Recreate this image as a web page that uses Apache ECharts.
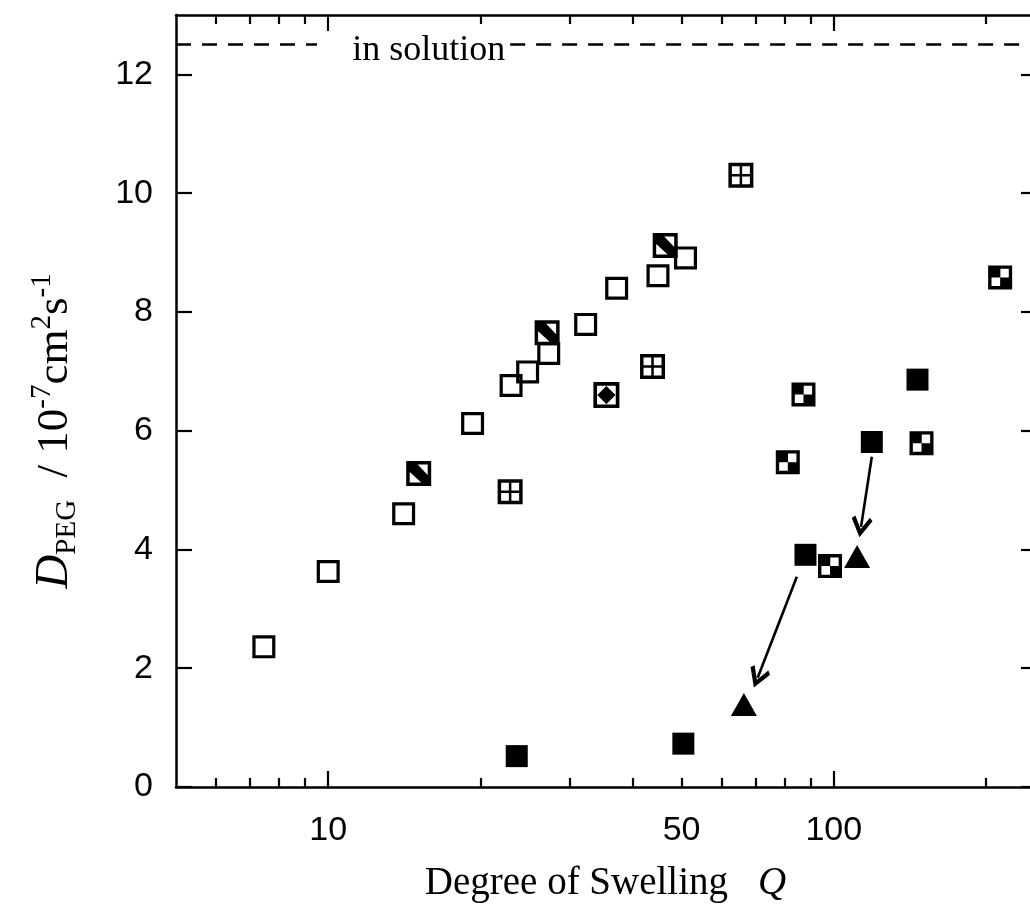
<!DOCTYPE html>
<html><head><meta charset="utf-8">
<script src="https://cdn.jsdelivr.net/npm/echarts@6/dist/echarts.min.js"></script>
<style>html,body{margin:0;padding:0;background:#fff}#c{width:1030px;height:909px}</style>
</head><body><div id="c"></div>
<script>
// ---- data (Q = degree of swelling, D = D_PEG / 1e-7 cm^2 s^-1) ----
const openSquares    = [[7.46,2.36],[10.0,3.63],[14.1,4.60],[19.3,6.12],[23.0,6.76],[24.8,6.99],[27.3,7.30],[32.3,7.79],[37.2,8.40],[44.9,8.61],[50.9,8.91]];
const diagSquares    = [[15.1,5.28],[27.1,7.65],[46.4,9.12]];
const plusSquares    = [[22.9,4.97],[43.8,7.08],[65.5,10.30]];
const diamondSquares = [[35.5,6.60]];
const checkSquares   = [[81.1,5.47],[87.1,6.61],[98.3,3.72],[149.1,5.79],[213.3,8.58]];
const filledSquares  = [[23.6,0.52],[50.4,0.73],[87.9,3.91],[118.9,5.81],[146.4,6.86]];
const triangles      = [[66.4,1.39],[111.2,3.88]];
const arrowFrom      = [[118.9,5.56],[84.5,3.54]];
const arrowTo        = [[113.2,4.38],[70.7,1.84]];
const solutionD      = 12.5;
const solutionGap    = [9.5, 22.9];
const solutionLabel  = [[15.8, 12.5]];
const xRange         = [5, 250];
const yRange         = [0, 13];
const xMinorTicks    = [6,7,8,9,20,30,40,50,60,70,80,90,200];
const xMajorTicks    = [10,100];
const xTickLabels    = [10,50,100];
const yTickValues    = [0,2,4,6,8,10,12];

// ---- symbols ----
const RING = 'M0 0H100V100H0Z M14 14V86H86V14Z';
const SYM = {
  open:    'path://' + RING,
  diag:    'path://' + RING + ' M14 14H46L86 56V86H60L14 44Z',
  plus:    'path://' + RING + ' M45 14H55V86H45Z M14 45H86V55H14Z',
  diamond: 'path://' + RING + ' M50 15L85 50L50 85L15 50Z',
  check:   'path://M0 0H100V100H0Z M51 14V50H86V14Z M14 50V86H50V50Z',
  arrow:   'path://M50 0L100 68L85 80L50 32L15 80L0 68Z'
};

const black = '#000';
const tickStyle = {color: black, width: 2.2};
const lineStyleAxis = {color: black, width: 2.5};
const xBase = {type: 'log', logBase: 10, min: xRange[0], max: xRange[1], gridIndex: 0, splitLine: {show: false}, minorTick: {show: false}};

function scatter(name, data, symbol, size) {
  return {
    name, type: 'scatter', data, symbol, symbolSize: size,
    itemStyle: {color: black, borderWidth: 0, opacity: 1},
    emphasis: {disabled: true}, z: 3
  };
}

const series = [
  scatter('open', openSquares, SYM.open, 23),
  scatter('diag', diagSquares, SYM.diag, 25),
  scatter('plus', plusSquares, SYM.plus, 25),
  scatter('diamond', diamondSquares, SYM.diamond, 26),
  scatter('check', checkSquares, SYM.check, 24),
  scatter('triangle', triangles, 'triangle', [26, 23]),
  Object.assign(scatter('filled', filledSquares, 'rect', 22), {
    markLine: {
      silent: true, animation: false,
      label: {show: false},
      symbol: ['none', 'none'],
      data: [
        [{coord: [xRange[0], solutionD], lineStyle: {type: [15, 11], width: 2.6, color: black, opacity: 1}},
         {coord: [solutionGap[0], solutionD]}],
        [{coord: [solutionGap[1], solutionD], lineStyle: {type: [15, 11], width: 2.6, color: black, opacity: 1}},
         {coord: [xRange[1], solutionD]}],
        ...arrowFrom.map((f, i) => [
          {coord: f, symbol: 'none', lineStyle: {type: 'solid', width: 2.6, color: black, opacity: 1}},
          {coord: arrowTo[i], symbol: SYM.arrow, symbolSize: [21, 21]}
        ])
      ]
    }
  }),
  {
    name: 'label', type: 'scatter', data: solutionLabel, symbolSize: 0, silent: true,
    itemStyle: {opacity: 1, color: black},
    label: {show: true, position: 'inside', formatter: 'in solution', color: black, opacity: 1,
            fontFamily: 'Liberation Serif', fontSize: 36, offset: [0, 6]}
  }
];

const chart = echarts.init(document.getElementById('c'), null, {renderer: 'canvas'});
chart.setOption({
  animation: false,
  backgroundColor: '#fff',
  grid: {left: 176, right: -5, top: 15, bottom: 122, containLabel: false, outerBoundsMode: 'none'},
  xAxis: [
    Object.assign({}, xBase, {
      position: 'bottom',
      axisLine: {show: true, lineStyle: lineStyleAxis},
      axisTick: {show: true, inside: true, length: 9, customValues: xMinorTicks, lineStyle: tickStyle},
      axisLabel: {show: true, customValues: xTickLabels, formatter: v => String(Math.round(v)),
                  color: black, fontFamily: 'Liberation Sans', fontSize: 34, margin: 27},
      name: '{n|Degree of Swelling}{q|Q}', nameLocation: 'middle', nameGap: 77, nameMoveOverlap: false,
      nameTextStyle: {rich: {
        n: {fontFamily: 'Liberation Serif', fontSize: 39, color: black},
        q: {fontFamily: 'Liberation Serif', fontSize: 39, fontStyle: 'italic', color: black, padding: [0, 0, 0, 30]}
      }}
    }),
    Object.assign({}, xBase, {
      position: 'bottom', axisLine: {show: false},
      axisTick: {show: true, inside: true, length: 16, customValues: xMajorTicks, lineStyle: tickStyle},
      axisLabel: {show: false}
    }),
    Object.assign({}, xBase, {
      position: 'top', axisLine: {show: true, lineStyle: lineStyleAxis},
      axisTick: {show: true, inside: true, length: 9, customValues: xMinorTicks, lineStyle: tickStyle},
      axisLabel: {show: false}
    }),
    Object.assign({}, xBase, {
      position: 'top', axisLine: {show: false},
      axisTick: {show: true, inside: true, length: 16, customValues: xMajorTicks, lineStyle: tickStyle},
      axisLabel: {show: false}
    })
  ],
  yAxis: [
    {
      type: 'value', min: yRange[0], max: yRange[1], position: 'left', splitLine: {show: false},
      axisLine: {show: true, lineStyle: lineStyleAxis},
      axisTick: {show: true, inside: true, length: 16, customValues: yTickValues, lineStyle: tickStyle},
      axisLabel: {show: true, customValues: yTickValues, color: black, fontFamily: 'Liberation Sans', fontSize: 34, margin: 23},
      name: '{d|D}{sub|PEG}{n|  / 10}{sup|-7}{n|cm}{sup|2}{n|s}{sup|-1}',
      nameLocation: 'middle', nameGap: 94, nameMoveOverlap: false,
      nameTextStyle: {padding: [0, 60, 0, 0], rich: {
        d: {fontFamily: 'Liberation Serif', fontStyle: 'italic', fontSize: 47, lineHeight: 54, color: black},
        n: {fontFamily: 'Liberation Serif', fontSize: 45, lineHeight: 54, color: black},
        sub: {fontFamily: 'Liberation Serif', fontSize: 29, lineHeight: 29, verticalAlign: 'bottom', color: black},
        sup: {fontFamily: 'Liberation Serif', fontSize: 29, lineHeight: 29, verticalAlign: 'top', color: black}
      }}
    },
    {
      type: 'value', min: yRange[0], max: yRange[1], position: 'right', splitLine: {show: false},
      axisLine: {show: true, lineStyle: lineStyleAxis},
      axisTick: {show: true, inside: true, length: 14, customValues: yTickValues, lineStyle: tickStyle},
      axisLabel: {show: false}
    }
  ],
  series
});
</script></body></html>
